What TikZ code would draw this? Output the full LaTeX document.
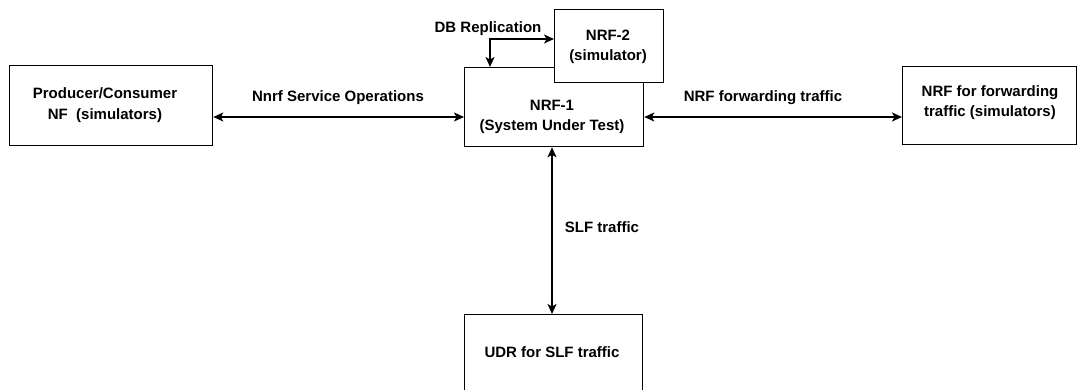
\documentclass[tikz,border=0pt]{standalone}
\usepackage{fontspec}
\setmainfont{Liberation Sans}
\usetikzlibrary{arrows.meta}
\begin{document}
\begin{tikzpicture}[x=1pt,y=-1pt,
  box/.style={draw=black,line width=1.3pt,fill=white,inner sep=0pt,anchor=north west},
  txt/.style={font=\fontsize{15}{20.5}\selectfont\bfseries,align=center,inner sep=0pt},
  conn/.style={line width=1.3pt,{Stealth[length=10pt,width=9pt,inset=2.5pt]}-{Stealth[length=10pt,width=9pt,inset=2.5pt]}}]
\useasboundingbox (0,0) rectangle (1077,390);
\clip (0,0) rectangle (1077,390);
% boxes
\node[box,minimum width=203pt,minimum height=80pt] (pc) at (9,65) {};
\node[box,minimum width=179pt,minimum height=79pt] (nrf1) at (464,67) {};
\node[box,minimum width=109pt,minimum height=73pt] (nrf2) at (554,9) {};
\node[box,minimum width=174pt,minimum height=78pt] (fwd) at (902,66) {};
\node[box,minimum width=178pt,minimum height=100pt] (udr) at (464,314) {};
% box texts
\node[txt] (pct) at (105,105) {Producer/Consumer\\NF\ \ (simulators)};
\node[txt] (nrf1t) at (552,117) {NRF-1\\(System Under Test)};
\node[txt] (nrf2t) at (608,47) {NRF-2\\(simulator)};
\node[txt] (fwdt) at (990,102.5) {NRF for forwarding\\traffic (simulators)};
\node[txt] (udrt) at (552,352) {UDR for SLF traffic};
% connectors
\draw[conn] (pc.east |- 0,117) -- (nrf1.west |- 0,117);
\draw[conn] (nrf1.east |- 0,117) -- (fwd.west |- 0,117);
\draw[conn] (nrf1.south -| 552,0) -- (udr.north -| 552,0);
\coordinate (dbc) at (490,39);
\draw[conn] (nrf1.north -| dbc) -- (dbc) -- (nrf2.west |- dbc);
% labels
\node[txt] (l1) at (338,98) {Nnrf Service Operations};
\node[txt] (l2) at (763,98) {NRF forwarding traffic};
\node[txt] (l3) at (602,227) {SLF traffic};
\node[txt] (l4) at (488,29) {DB Replication};
\end{tikzpicture}
\end{document}
